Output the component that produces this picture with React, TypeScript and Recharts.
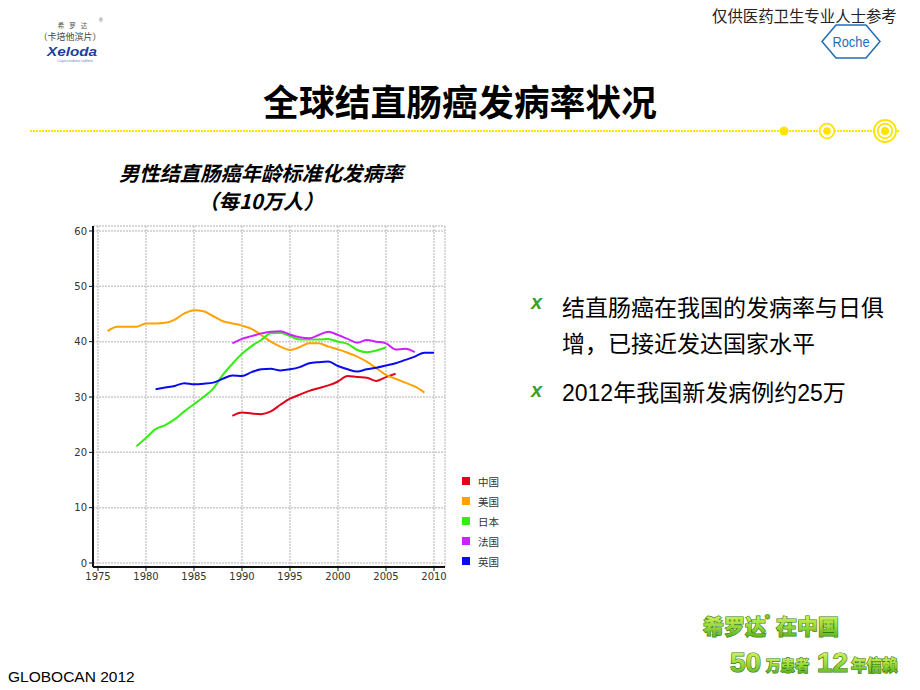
import React from 'react';
import { LineChart, Line, XAxis, YAxis, CartesianGrid, Legend } from 'recharts';

const N = null;

const years = [
  1976, 1977, 1978, 1979, 1980, 1981, 1982, 1983, 1984, 1985, 1986, 1987,
  1988, 1989, 1990, 1991, 1992, 1993, 1994, 1995, 1996, 1997, 1998, 1999,
  2000, 2001, 2002, 2003, 2004, 2005, 2006, 2007, 2008, 2009, 2010,
];

const chinaRates = [
  N, N, N, N, N, N, N, N, N, N, N, N, N,
  26.6, 27.2, 27.0, 26.9, 27.4, 28.6, 29.7, 30.4, 31.1, 31.6, 32.1, 32.8,
  33.8, 33.6, 33.5, 32.9, 33.6, 34.2,
  N, N, N, N,
];

const usaRates = [
  41.9, 42.7, 42.7, 42.7, 43.3, 43.3, 43.4, 44.0, 45.1, 45.7, 45.5, 44.6,
  43.7, 43.3, 42.9, 42.3, 41.2, 40.0, 39.1, 38.5, 39.0, 39.7, 39.7, 39.1,
  38.6, 38.0, 37.3, 36.4, 35.2, 34.0, 33.3, 32.6, 31.9, 30.8,
  N,
];

const japanRates = [
  N, N, N,
  21.1, 22.6, 24.2, 24.9, 26.0, 27.4, 28.7, 30.0, 31.5, 34.0, 36.0, 37.8,
  39.2, 40.3, 41.5, 41.6, 41.0, 40.4, 40.4, 40.4, 40.5, 40.0, 39.6, 38.5,
  38.1, 38.4, 39.0,
  N, N, N, N, N,
];

const franceRates = [
  N, N, N, N, N, N, N, N, N, N, N, N, N,
  39.7, 40.5, 41.0, 41.5, 41.8, 41.9, 41.3, 40.8, 40.6, 41.2, 41.8, 41.2,
  40.5, 39.8, 40.3, 40.0, 39.7, 38.6, 38.7, 38.1,
  N, N,
];

const ukRates = [
  N, N, N, N, N,
  31.4, 31.7, 32.0, 32.5, 32.3, 32.4, 32.6, 33.3, 33.9, 33.8, 34.5, 35.0,
  35.1, 34.8, 35.0, 35.4, 36.1, 36.3, 36.4, 35.6, 35.0, 34.6, 35.0, 35.3,
  35.7, 36.1, 36.7, 37.3, 38.0, 38.0,
];

const xTicks = [1975, 1980, 1985, 1990, 1995, 2000, 2005, 2010];
const yTicks = [0, 10, 20, 30, 40, 50, 60];

const seriesKeys = ['china', 'usa', 'japan', 'france', 'uk'];
const seriesNames = ['中国', '美国', '日本', '法国', '英国'];
const seriesColors = ['#e3001b', '#ffa200', '#33ee11', '#cc22ff', '#0a0aee'];

const data = years.map((year, i) => ({
  year,
  china: chinaRates[i],
  usa: usaRates[i],
  japan: japanRates[i],
  france: franceRates[i],
  uk: ukRates[i],
}));

const CJK = '"Noto Sans CJK SC", "Noto Sans", sans-serif';
const SANS = '"Liberation Sans", Arial, "Noto Sans CJK SC", sans-serif';
const TICK_FONT = '"DejaVu Sans", Verdana, sans-serif';

const renderLegend = (props: any) => {
  const payload = [...(props.payload || [])].sort(
    (a: any, b: any) => seriesNames.indexOf(a.value) - seriesNames.indexOf(b.value)
  );
  return (
    <div style={{ fontFamily: CJK, fontSize: 10.5, color: '#333' }}>
      {payload.map((entry: any) => (
        <div
          key={entry.value}
          style={{ height: 20, display: 'flex', alignItems: 'center' }}
        >
          <span
            style={{
              width: 8,
              height: 8,
              background: entry.color,
              marginRight: 8,
              display: 'inline-block',
            }}
          />
          <span>{entry.value}</span>
        </div>
      ))}
    </div>
  );
};

const abs = (style: React.CSSProperties): React.CSSProperties => ({
  position: 'absolute',
  whiteSpace: 'nowrap',
  ...style,
});

export default function App() {
  return (
    <div
      style={{
        position: 'absolute',
        left: 0,
        top: 0,
        width: 920,
        height: 690,
        background: '#ffffff',
        overflow: 'hidden',
      }}
    >
      {/* decorations */}
      <svg
        width={920}
        height={690}
        style={{ position: 'absolute', left: 0, top: 0 }}
      >
        <defs>
          <linearGradient id="greenText" x1="0" y1="0" x2="0" y2="1">
            <stop offset="0%" stopColor="#eaf86a" />
            <stop offset="55%" stopColor="#9bd83a" />
            <stop offset="100%" stopColor="#4fa81c" />
          </linearGradient>
        </defs>
        {/* yellow separator */}
        <line
          x1={30}
          y1={131}
          x2={900}
          y2={131}
          stroke="#ffe400"
          strokeWidth={2}
          strokeDasharray="2 1"
        />
        <circle cx={784} cy={131} r={4.5} fill="#ffe400" />
        <circle cx={827} cy={131} r={7.3} fill="#fff" stroke="#ffe400" strokeWidth={1.8} />
        <circle cx={827} cy={131} r={3.8} fill="#ffe400" />
        <circle cx={885} cy={131} r={11} fill="#fff" stroke="#ffe400" strokeWidth={1.8} />
        <circle cx={885} cy={131} r={7.3} fill="#fff" stroke="#ffe400" strokeWidth={1.8} />
        <circle cx={885} cy={131} r={4} fill="#ffe400" />

        {/* Roche logo */}
        <polygon
          points="822,41.5 836,25 866,25 880,41.5 866,58 836,58"
          fill="#fff"
          stroke="#1f6db5"
          strokeWidth={1.5}
        />
        <text
          x={851}
          y={47}
          textAnchor="middle"
          fontFamily={SANS}
          fontSize={14}
          fill="#1f6db5"
          textLength={37}
          lengthAdjust="spacingAndGlyphs"
        >
          Roche
        </text>

        {/* top-left logo */}
        <text x={75} y={28} textAnchor="middle" fontFamily={CJK} fontSize={6.5} fill="#555" letterSpacing={5}>
          希罗达
        </text>
        <text x={99} y={22} fontFamily={SANS} fontSize={5} fill="#555">®</text>
        <text x={70} y={40} textAnchor="middle" fontFamily={CJK} fontSize={9} fill="#444">
          （卡培他滨片）
        </text>
        <text
          x={72}
          y={56}
          textAnchor="middle"
          fontFamily={SANS}
          fontSize={13}
          fontWeight="bold"
          fontStyle="italic"
          fill="#1b3f9c"
          textLength={50}
          lengthAdjust="spacingAndGlyphs"
        >
          Xeloda
        </text>
        <text x={75} y={62} textAnchor="middle" fontFamily={SANS} fontSize={4} fill="#6b8fc5">
          Capecitabine tablets
        </text>

        {/* bullet markers */}
        <text x={531} y={309} fontFamily={SANS} fontSize={20} fontWeight="bold" fontStyle="italic" fill="#3aa02a">
          x
        </text>
        <text x={531} y={397} fontFamily={SANS} fontSize={20} fontWeight="bold" fontStyle="italic" fill="#3aa02a">
          x
        </text>

        {/* bottom-right logo */}
        <g
          fontFamily={CJK}
          fontWeight="900"
          fill="url(#greenText)"
          stroke="#2f7d12"
          strokeWidth={1.2}
          paintOrder="stroke"
        >
          <text x={703} y={634} fontSize={21}>希罗达</text>
          <text x={765} y={622} fontSize={9}>®</text>
          <text x={776} y={634} fontSize={21}>在中国</text>
          <text x={730} y={672} fontSize={28} fontFamily={SANS}>50</text>
          <text x={766} y={671} fontSize={14.5}>万患者</text>
          <text x={817} y={672} fontSize={28} fontFamily={SANS}>12</text>
          <text x={851} y={671} fontSize={15.5}>年信赖</text>
        </g>
      </svg>

      <div style={abs({ left: 712, top: 5, fontFamily: CJK, fontSize: 15.4, lineHeight: '20px', color: '#222' })}>
        仅供医药卫生专业人士参考
      </div>

      <div
        style={abs({
          left: 0,
          top: 80,
          width: 920,
          textAlign: 'center',
          fontFamily: CJK,
          fontWeight: 700,
          fontSize: 35.8,
          lineHeight: '40px',
          color: '#000',
        })}
      >
        全球结直肠癌发病率状况
      </div>

      <div
        style={abs({
          left: 61,
          width: 400,
          top: 160,
          textAlign: 'center',
          fontFamily: CJK,
          fontWeight: 700,
          fontStyle: 'italic',
          fontSize: 20.3,
          lineHeight: '24px',
          color: '#000',
        })}
      >
        男性结直肠癌年龄标准化发病率
      </div>
      <div
        style={abs({
          left: 61,
          width: 400,
          top: 188,
          textAlign: 'center',
          fontFamily: CJK,
          fontWeight: 700,
          fontStyle: 'italic',
          fontSize: 20.3,
          lineHeight: '24px',
          color: '#000',
        })}
      >
        （每10万人）
      </div>

      <div style={abs({ left: 562, top: 290, fontFamily: CJK, fontSize: 23, lineHeight: '32px', color: '#000' })}>
        结直肠癌在我国的发病率与日俱
      </div>
      <div style={abs({ left: 562, top: 326, fontFamily: CJK, fontSize: 23, lineHeight: '32px', color: '#000' })}>
        增，已接近发达国家水平
      </div>
      <div style={abs({ left: 562, top: 377, fontFamily: SANS, fontSize: 23, lineHeight: '32px', color: '#000' })}>
        2012年我国新发病例约25万
      </div>

      <div style={abs({ left: 8, top: 668, fontFamily: SANS, fontSize: 15.5, lineHeight: '18px', color: '#000' })}>
        GLOBOCAN 2012
      </div>

      {/* chart */}
      <div style={{ position: 'absolute', left: 0, top: 0 }}>
        <LineChart
          width={520}
          height={600}
          data={data}
          margin={{ top: 226, right: 75, bottom: 8, left: 63 }}
        >
          <CartesianGrid
            stroke="#cccccc"
            strokeWidth={1.5}
            strokeDasharray="2 1"
          />
          <XAxis
            dataKey="year"
            type="number"
            domain={[1975, 2010]}
            ticks={xTicks}
            interval={0}
            padding={{ left: 5, right: 11 }}
            height={25}
            tickSize={4}
            axisLine={{ stroke: '#111', strokeWidth: 2 }}
            tickLine={{ stroke: '#111' }}
            tick={{ fill: '#333', fontSize: 10, fontFamily: TICK_FONT }}
          />
          <YAxis
            type="number"
            domain={[0, 60]}
            ticks={yTicks}
            interval={0}
            padding={{ top: 5, bottom: 4 }}
            width={30}
            tickSize={4}
            axisLine={{ stroke: '#111', strokeWidth: 2 }}
            tickLine={{ stroke: '#111' }}
            tick={{ fill: '#333', fontSize: 10, fontFamily: TICK_FONT }}
          />
          <Legend
            layout="vertical"
            align="center"
            verticalAlign="middle"
            content={renderLegend}
            wrapperStyle={{ left: 462, top: 471, width: 50 }}
          />
          {seriesKeys.map((key, i) => (
            <Line
              key={key}
              type="monotone"
              dataKey={key}
              name={seriesNames[i]}
              stroke={seriesColors[i]}
              strokeWidth={2}
              dot={false}
              activeDot={false}
              connectNulls={false}
              isAnimationActive={false}
            />
          ))}
        </LineChart>
      </div>
    </div>
  );
}
